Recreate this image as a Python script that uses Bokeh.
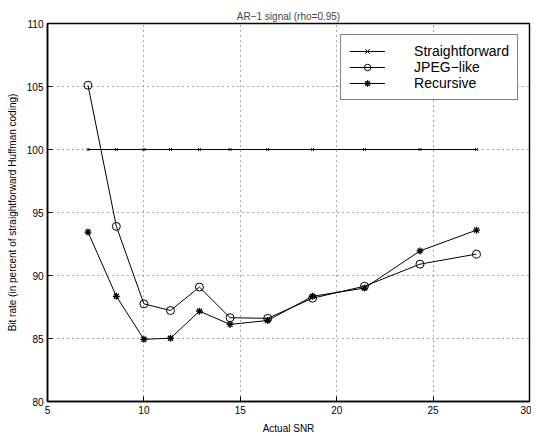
from bokeh.plotting import figure
from bokeh.models import Legend, LegendItem, FixedTicker
from bokeh.embed import file_html
from bokeh.resources import INLINE

# Data
snr = [7.10, 8.57, 10.0, 11.38, 12.88, 14.47, 16.42, 18.75, 21.44, 24.32, 27.25]
rate_straight = [100, 100, 100, 100, 100, 100, 100, 100, 100, 100, 100]
rate_jpeg = [105.1, 93.9, 87.75, 87.22, 89.08, 86.65, 86.6, 88.2, 89.15, 90.9, 91.7]
rate_rec = [93.45, 88.35, 84.94, 85.02, 87.17, 86.12, 86.43, 88.35, 89.0, 91.95, 93.6]

x_ticks = [5, 10, 15, 20, 25, 30]
y_ticks = [80, 85, 90, 95, 100, 105, 110]

FONT = "Liberation Sans"

p = figure(width=531, height=436,
           x_range=(5, 30), y_range=(80, 110),
           output_backend="svg", toolbar_location=None,
           title="AR\u22121 signal (rho=0.95)",
           min_border_left=47, min_border_right=2,
           min_border_top=23, min_border_bottom=31)

p.title.text_font = FONT
p.title.text_font_size = "10px"
p.title.text_font_style = "normal"
p.title.align = "center"
p.title.standoff = 4
p.title.offset = 0

p.outline_line_color = "black"
p.outline_line_width = 1.5

for ax in (p.xaxis[0], p.yaxis[0]):
    ax.major_label_text_font = FONT
    ax.major_label_text_font_size = "10px"
    ax.major_label_text_color = "black"
    ax.axis_label_text_font = FONT
    ax.axis_label_text_font_size = "10px"
    ax.axis_label_text_font_style = "normal"
    ax.axis_label_text_color = "black"
    ax.axis_line_color = "black"
    ax.axis_line_width = 1.5
    ax.major_tick_in = 5
    ax.major_tick_out = 0
    ax.major_tick_line_color = "black"
    ax.minor_tick_line_color = None
    ax.major_label_standoff = 4
    ax.axis_label_standoff = 6

p.xaxis[0].ticker = FixedTicker(ticks=x_ticks)
p.yaxis[0].ticker = FixedTicker(ticks=y_ticks)
p.xaxis[0].axis_label = "Actual SNR"
p.yaxis[0].axis_label = "Bit rate (in percent of straightforward Huffman coding)"

p.xgrid[0].ticker = FixedTicker(ticks=x_ticks)
p.ygrid[0].ticker = FixedTicker(ticks=y_ticks)
for g in (p.xgrid[0], p.ygrid[0]):
    g.grid_line_color = "#555555"
    g.grid_line_alpha = 1.0
    g.grid_line_dash = "1 4"
    g.grid_line_width = 1

# Straightforward
l1 = p.line(snr, rate_straight, line_color="black", line_width=1)
m1 = p.scatter(snr, rate_straight, marker="x", size=4, line_color="black", line_width=1)
# JPEG-like
l2 = p.line(snr, rate_jpeg, line_color="black", line_width=1)
m2 = p.scatter(snr, rate_jpeg, marker="circle", size=8, line_color="black",
               fill_color=None, line_width=1)
# Recursive
l3 = p.line(snr, rate_rec, line_color="black", line_width=1)
m3 = p.scatter(snr, rate_rec, marker="asterisk", size=7, line_color="black", line_width=1.3)

legend = Legend(items=[
    LegendItem(label="Straightforward", renderers=[l1, m1]),
    LegendItem(label="JPEG\u2212like", renderers=[l2, m2]),
    LegendItem(label="Recursive", renderers=[l3, m3]),
], location="top_right")
legend.margin = 11
legend.padding = 8
legend.spacing = 0
legend.glyph_width = 36
legend.glyph_height = 16
legend.label_height = 16
legend.label_standoff = 29
legend.label_text_font = FONT
legend.label_text_font_size = "14px"
legend.label_text_color = "black"
legend.border_line_color = "black"
legend.border_line_width = 1.5
legend.background_fill_color = "white"
legend.background_fill_alpha = 1
p.add_layout(legend, "center")

open("out.html", "w").write(file_html(p, INLINE))
